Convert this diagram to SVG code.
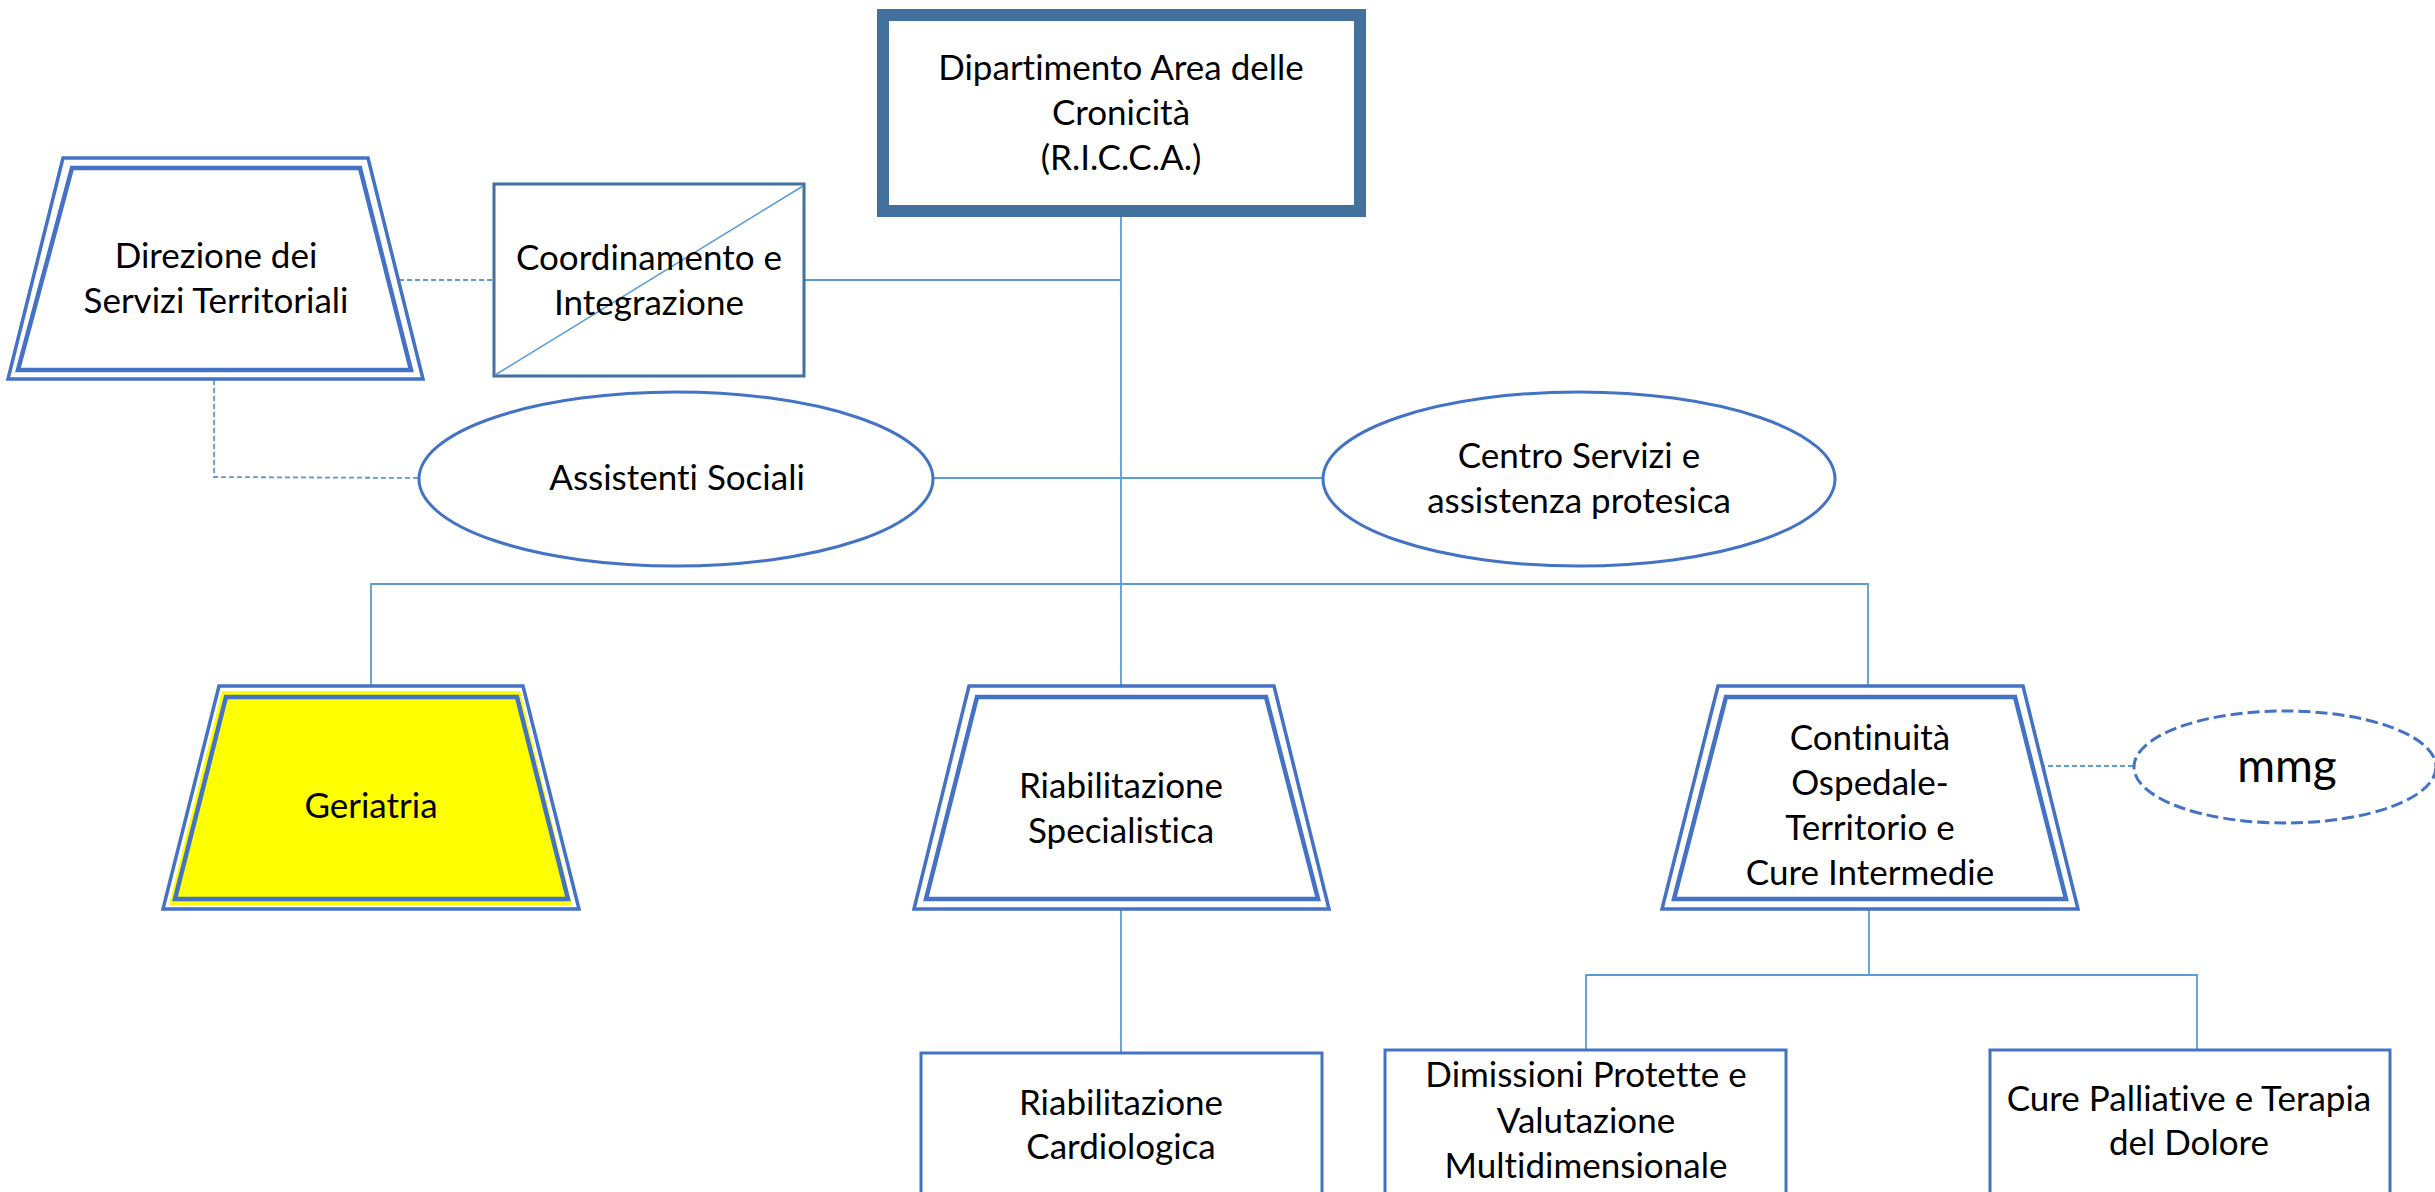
<svg xmlns="http://www.w3.org/2000/svg" width="2435" height="1192" viewBox="0 0 2435 1192">
<defs>
<style>
text{font-family:Lato,"Liberation Sans",sans-serif;font-size:35px;fill:#000;text-anchor:middle;font-variant-ligatures:none;font-feature-settings:"liga" 0,"clig" 0}
.conn{stroke:#5B9BD5;stroke-width:1.8;fill:none}
.dash{stroke:#5B9BD5;stroke-width:1.8;fill:none;stroke-dasharray:5 3}
.tout{stroke:#4472C4;stroke-width:3.5;fill:#fff}
.tin{stroke:#4472C4;stroke-width:4.5;fill:none}
.ell{stroke:#4472C4;stroke-width:3;fill:#fff}
.box{stroke:#4472C4;stroke-width:3;fill:#fff}
</style>
</defs>
<rect width="2435" height="1192" fill="#fff"/>
<g id="connectors">
<line class="conn" x1="1121" y1="217" x2="1121" y2="686"/>
<line class="conn" x1="804" y1="280" x2="1121" y2="280"/>
<line class="conn" x1="933" y1="478" x2="1323" y2="478"/>
<polyline class="conn" points="371,686 371,584 1868,584 1868,686"/>
<line class="conn" x1="1121" y1="909" x2="1121" y2="1053"/>
<polyline class="conn" points="1586,1053 1586,975 2197,975 2197,1049"/>
<line class="conn" x1="1869" y1="909" x2="1869" y2="975"/>
<line class="dash" x1="399" y1="280" x2="494" y2="280"/>
<polyline class="dash" points="214,380 214,477 419,478"/>
<line class="dash" x1="2040" y1="766" x2="2134" y2="766"/>
</g>
<g id="dipartimento">
<rect x="883" y="15" width="477" height="196" fill="#fff" stroke="#41719C" stroke-width="12"/>
<text x="1121" y="80">Dipartimento  Area delle</text>
<text x="1121" y="125">Cronicità</text>
<text x="1121" y="170">(R.I.C.C.A.)</text>
</g>
<g id="direzione">
<polygon class="tout" points="63,158 368,158 423,379 8,379"/>
<polygon class="tin" points="72,168 360,168 411,370 18,370"/>
<text x="216" y="268">Direzione dei</text>
<text x="216" y="313">Servizi Territoriali</text>
</g>
<g id="coordinamento">
<rect x="494" y="184" width="310" height="192" fill="#fff" stroke="#41719C" stroke-width="3"/>
<line x1="495" y1="375" x2="803" y2="186" stroke="#5B9BD5" stroke-width="1.5"/>
<text x="649" y="270">Coordinamento e</text>
<text x="649" y="315">Integrazione</text>
</g>
<g id="assistenti">
<ellipse class="ell" cx="676" cy="479" rx="257" ry="87"/>
<text x="677" y="490">Assistenti Sociali</text>
</g>
<g id="centro">
<ellipse class="ell" cx="1579" cy="479" rx="256" ry="87"/>
<text x="1579" y="468">Centro Servizi e</text>
<text x="1579" y="513">assistenza protesica</text>
</g>
<g id="geriatria">
<polygon points="219,686 523,686 579,909 163,909" fill="#fff" stroke="#4472C4" stroke-width="3.5"/>
<polygon points="222,691 520,691 572,905 169,905" fill="#FFFF00"/>
<polygon points="226,697 517,697 568,899 175,899" fill="#FFFF00" stroke="#4472C4" stroke-width="4.5"/>
<text x="371" y="818">Geriatria</text>
</g>
<g id="riab-spec">
<polygon class="tout" points="969,686 1274,686 1329,909 914,909"/>
<polygon class="tin" points="977,697 1266,697 1318,899 926,899"/>
<text x="1121" y="798">Riabilitazione</text>
<text x="1121" y="843">Specialistica</text>
</g>
<g id="continuita">
<polygon class="tout" points="1718,686 2023,686 2078,909 1662,909"/>
<polygon class="tin" points="1726,697 2015,697 2066,899 1674,899"/>
<text x="1870" y="750">Continuità</text>
<text x="1870" y="795">Ospedale-</text>
<text x="1870" y="840">Territorio e</text>
<text x="1870" y="885">Cure Intermedie</text>
</g>
<g id="mmg">
<ellipse cx="2285" cy="767" rx="151" ry="56" fill="#fff" stroke="#4472C4" stroke-width="3" stroke-dasharray="12 5"/>
<text x="2287" y="782" style="font-size:46px">mmg</text>
</g>
<g id="riab-cardio">
<rect class="box" x="921" y="1053" width="401" height="150"/>
<text x="1121" y="1115">Riabilitazione</text>
<text x="1121" y="1159">Cardiologica</text>
</g>
<g id="dimissioni">
<rect class="box" x="1385" y="1050" width="401" height="150"/>
<text x="1586" y="1087">Dimissioni Protette e</text>
<text x="1586" y="1133">Valutazione</text>
<text x="1586" y="1178">Multidimensionale</text>
</g>
<g id="cure-palliative">
<rect class="box" x="1990" y="1050" width="400" height="150"/>
<text x="2189" y="1111">Cure Palliative e Terapia</text>
<text x="2189" y="1155">del Dolore</text>
</g>
</svg>
